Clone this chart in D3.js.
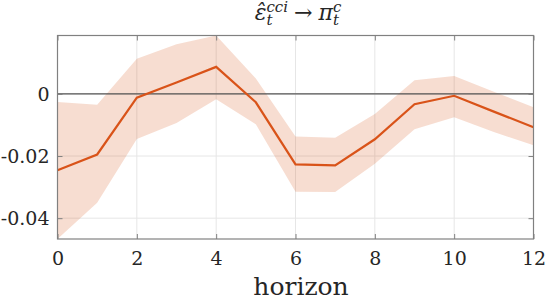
<!DOCTYPE html>
<html>
  <head>
    <meta charset="utf-8">
    <style>
      body { margin: 0; background: #fff; }
      svg { display: block; }
    </style>
    <script src="https://d3js.org/d3.v7.min.js"></script>
  </head>
  <body>
    <svg width="545" height="300"></svg>
    <script>
      // impulse response
      const horizon = [0, 1, 2, 3, 4, 5, 6, 7, 8, 9, 10, 11, 12];
      const irf   = [-0.0246, -0.0195, -0.0012, 0.0037, 0.0087, -0.0027, -0.0227, -0.0230, -0.0146, -0.0033, -0.0006, -0.0057, -0.0107];
      const upper = [-0.0026, -0.0035, 0.0113, 0.0160, 0.0188, 0.0050, -0.0137, -0.0141, -0.0065, 0.0044, 0.0058, 0.0007, -0.0043];
      const lower = [-0.0467, -0.0350, -0.0145, -0.0094, -0.0017, -0.0098, -0.0315, -0.0316, -0.0225, -0.0114, -0.0075, -0.0123, -0.0165];
      const xTicks = [0, 2, 4, 6, 8, 10, 12];
      const yTicks = [-0.04, -0.02, 0];

      // pick a serif font that is really installed
      const ctx = document.createElement('canvas').getContext('2d');
      function w(f) { ctx.font = `27px ${f}`; return ctx.measureText('horizon -0.02 \u03B5\u03C0').width; }
      const missing = w('"zzzNoFont"');
      const candidates = ['"Liberation Serif"', '"Times New Roman"', '"DejaVu Serif"', '"Noto Serif"', 'Tinos', 'serif'];
      const serif = candidates.find(f => Math.abs(w(f) - missing) > 0.5) || 'serif';

      const svg = d3.select('svg');
      const margin = { left: 57.5, right: 11.5, top: 35.5, bottom: 61 };
      const width = 545 - margin.left - margin.right;
      const height = 300 - margin.top - margin.bottom;
      const color = '#D95319';

      const x = d3.scaleLinear().domain([0, 12]).range([0, width]);
      const y = d3.scaleLinear()
        .domain([d3.min(lower), d3.max(upper)])
        .range([height, 0]);

      const g = svg.append('g')
        .attr('transform', `translate(${margin.left},${margin.top})`);

      // grid
      g.selectAll('.gx').data(xTicks).enter().append('line')
        .attr('x1', d => x(d)).attr('x2', d => x(d))
        .attr('y1', 0).attr('y2', height)
        .attr('stroke', '#e6e6e6').attr('stroke-width', 1);
      g.selectAll('.gy').data(yTicks).enter().append('line')
        .attr('y1', d => y(d)).attr('y2', d => y(d))
        .attr('x1', 0).attr('x2', width)
        .attr('stroke', '#e6e6e6').attr('stroke-width', 1);

      // band
      const band = horizon.map((h, i) => ({ h, lo: lower[i], hi: upper[i] }));
      g.append('path')
        .datum(band)
        .attr('fill', color)
        .attr('fill-opacity', 0.2)
        .attr('d', d3.area().x(d => x(d.h)).y0(d => y(d.lo)).y1(d => y(d.hi)));

      // zero line
      g.append('line')
        .attr('x1', 0).attr('x2', width)
        .attr('y1', y(0)).attr('y2', y(0))
        .attr('stroke', '#555').attr('stroke-width', 1.1);

      // irf
      g.append('path')
        .datum(horizon.map((h, i) => ({ h, v: irf[i] })))
        .attr('fill', 'none')
        .attr('stroke', color)
        .attr('stroke-width', 2.2)
        .attr('d', d3.line().x(d => x(d.h)).y(d => y(d.v)));

      // box with inward ticks on all sides
      const axisColor = '#808080';
      const tk = 5;
      const styleText = a => a.selectAll('text')
        .attr('font-size', 19).attr('fill', '#262626')
        .attr('font-family', null).style('font-family', serif);
      g.append('g').attr('transform', `translate(0,${height})`)
        .call(d3.axisBottom(x).tickValues(xTicks).tickSizeInner(-tk).tickSizeOuter(0).tickPadding(13).tickFormat(d3.format('d')))
        .call(a => { a.select('.domain').remove(); a.selectAll('line').attr('stroke', axisColor); })
        .call(styleText);
      g.append('g')
        .call(d3.axisTop(x).tickValues(xTicks).tickSizeInner(-tk).tickSizeOuter(0).tickFormat(''))
        .call(a => { a.select('.domain').remove(); a.selectAll('line').attr('stroke', axisColor); });
      g.append('g')
        .call(d3.axisLeft(y).tickValues(yTicks).tickSizeInner(-tk).tickSizeOuter(0).tickPadding(8)
          .tickFormat(d => d === 0 ? '0' : d3.format('.2f')(d).replace('\u2212', '-')))
        .call(a => { a.select('.domain').remove(); a.selectAll('line').attr('stroke', axisColor); })
        .call(styleText);
      g.append('g').attr('transform', `translate(${width},0)`)
        .call(d3.axisRight(y).tickValues(yTicks).tickSizeInner(-tk).tickSizeOuter(0).tickFormat(''))
        .call(a => { a.select('.domain').remove(); a.selectAll('line').attr('stroke', axisColor); });
      g.append('rect')
        .attr('width', width).attr('height', height)
        .attr('fill', 'none').attr('stroke', axisColor).attr('stroke-width', 1.2);

      // x label
      svg.append('text')
        .attr('x', 301).attr('y', 295)
        .attr('text-anchor', 'middle')
        .attr('font-size', 25)
        .attr('fill', '#262626')
        .style('font-family', serif)
        .text('horizon');

      // title: \hat\varepsilon_t^{cci} \rightarrow \pi_t^c
      const title = svg.append('g').style('font-family', serif).attr('fill', '#262626');
      const base = 20, main = 22, script = 15;
      let cx = 0;
      function piece(str, size, dy, italic) {
        const t = title.append('text')
          .attr('x', cx).attr('y', base + dy)
          .attr('font-size', size)
          .attr('font-style', italic ? 'italic' : 'normal')
          .text(str);
        return t.node().getComputedTextLength();
      }
      function scripts(sup, sub) {
        const w1 = piece(sup, script, -8, true);
        const w2 = piece(sub, script, 5, true);
        cx += Math.max(w1, w2);
      }
      cx += piece('\u03B5\u0302', main, 0, true);
      scripts('cci', 't');
      cx += 6;
      cx += piece('\u2192', main, 0, false);
      cx += 6;
      cx += piece('\u03C0', main, 0, true);
      scripts('c', 't');
      title.attr('transform', `translate(${298 - cx / 2},0)`);
    </script>
  </body>
</html>
